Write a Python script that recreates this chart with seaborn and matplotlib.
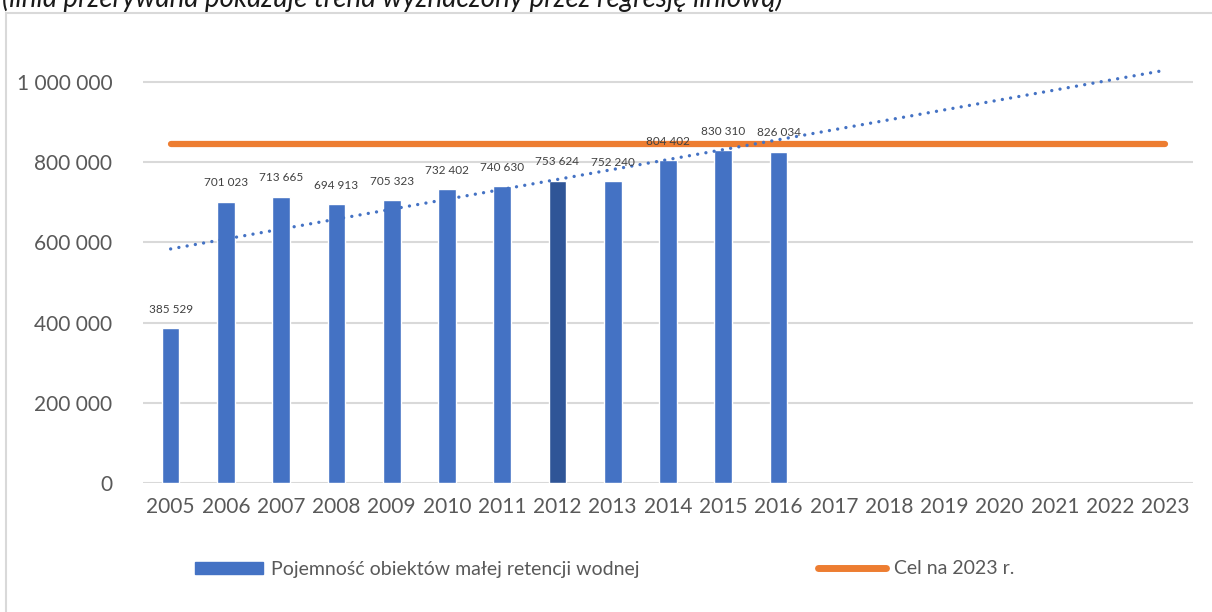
import numpy as np
import pandas as pd
import matplotlib.pyplot as plt
import matplotlib.patches as mpatches
from matplotlib.lines import Line2D
import seaborn as sns

# Data
years = [str(y) for y in range(2005, 2024)]
data_years = [str(y) for y in range(2005, 2017)]
capacity = [385529, 701023, 713665, 694913, 705323, 732402,
            740630, 753624, 752240, 804402, 830310, 826034]
target = 845000
highlight_year = '2012'

blue = '#4472C4'
dark_blue = '#2F5597'
orange = '#ED7D31'
grid_col = '#D9D9D9'
text_col = '#595959'

sns.set_theme(style='white')
plt.rcParams['font.family'] = ['Lato', 'DejaVu Sans']

df = pd.DataFrame({'year': data_years, 'capacity': capacity})
palette = {y: (dark_blue if y == highlight_year else blue) for y in data_years}

fig = plt.figure(figsize=(12.12, 6.12), dpi=100)
ax = fig.add_axes([143 / 1212, 1 - 483 / 612, 1050 / 1212, 421 / 612])

sns.barplot(data=df, x='year', y='capacity', hue='year', order=years,
            palette=palette, width=0.32, legend=False, saturation=1, ax=ax)

# data labels (drawn above the lines, like in the original)
for i, v in enumerate(capacity):
    ax.annotate(f'{v:,}'.replace(',', ' '), (i, v), xytext=(0, 19),
                textcoords='offset pixels', ha='center', va='center',
                fontsize=8.5, color='#404040', zorder=6)

# target line
ax.plot([0, len(years) - 1], [target, target], color=orange, lw=4.5,
        solid_capstyle='round', zorder=3)

# linear trend over the measured years, extended to 2023
coef = np.polyfit(np.arange(len(capacity)), capacity, 1)
xs = np.arange(len(years))
ax.plot(xs, np.polyval(coef, xs), color=blue, lw=2.4, ls=(0, (0.01, 2.5)),
        dash_capstyle='round', zorder=4, clip_on=False)

ax.set_ylim(0, 1050000)
ax.set_xlim(-0.5, len(years) - 0.5)
ax.set_yticks(range(0, 1000001, 200000))
ax.set_yticklabels([f'{t:,}'.replace(',', ' ') for t in range(0, 1000001, 200000)])
ax.yaxis.grid(True, color=grid_col, lw=1.5)
ax.set_axisbelow(True)
for s in ax.spines.values():
    s.set_visible(False)
ax.tick_params(axis='both', length=0, labelsize=15, labelcolor=text_col, pad=10)
ax.tick_params(axis='y', pad=22)
ax.set_xlabel('')
ax.set_ylabel('')

# legend: two separate entries placed like the original
leg_kw = dict(loc='center left', frameon=False, fontsize=14, labelcolor=text_col,
              handletextpad=0.4, borderaxespad=0, borderpad=0)
fig.legend(handles=[mpatches.Patch(color=blue, label='Pojemność obiektów małej retencji wodnej')],
           bbox_to_anchor=(195 / 1212, 1 - 569 / 612), handlelength=3.5, handleheight=0.57, **leg_kw)
fig.legend(handles=[Line2D([0], [0], color=orange, lw=5, solid_capstyle='round', label='Cel na 2023 r.')],
           bbox_to_anchor=(818 / 1212, 1 - 569 / 612), handlelength=3.5, **leg_kw)

# chart frame and cut-off caption
fig.patches.append(mpatches.Rectangle((6 / 1212, -0.01), 1.1, 1 - 13 / 612 + 0.01,
                                      transform=fig.transFigure, fill=False,
                                      edgecolor=grid_col, lw=1.5))
fig.text(0.002, 1 - 7 / 612, '(linia przerywana pokazuje trend wyznaczony przez regresję liniową)',
         fontsize=20, style='italic', color='#1a1a1a', va='baseline', ha='left')

fig.savefig('out.png', dpi=100)
